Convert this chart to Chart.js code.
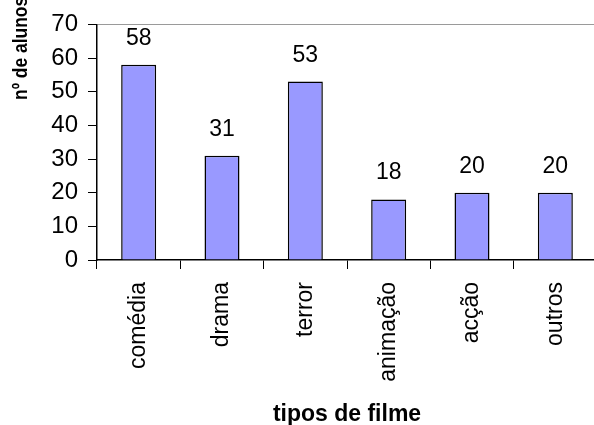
<!DOCTYPE html>
<html>
<head>
<meta charset="utf-8">
<script src="https://cdn.jsdelivr.net/npm/chart.js@4.4.0/dist/chart.umd.min.js"></script>
<style>
  html, body { margin: 0; padding: 0; background: #fff; overflow: hidden; }
  #wrap { width: 594px; height: 425px; overflow: hidden; }
  #box { width: 600px; height: 428px; }
</style>
</head>
<body>
<div id="wrap"><div id="box"><canvas id="chart"></canvas></div></div>
<script>
const categories = ['comédia', 'drama', 'terror', 'animação', 'acção', 'outros'];
const alunos = [58, 31, 53, 18, 20, 20];
const yTicks = [0, 10, 20, 30, 40, 50, 60, 70];
const yTitle = 'nº de alunos';
const xTitle = 'tipos de filme';

const FONT = '"Liberation Sans", Arial, sans-serif';

// value labels above bars
const valueLabels = {
  id: 'valueLabels',
  afterDatasetsDraw(chart) {
    const ctx = chart.ctx;
    const meta = chart.getDatasetMeta(0);
    ctx.save();
    ctx.font = '23px ' + FONT;
    ctx.fillStyle = '#000';
    ctx.textAlign = 'center';
    ctx.textBaseline = 'alphabetic';
    meta.data.forEach((bar, i) => {
      ctx.fillText(String(alunos[i]), bar.x, bar.y - 20);
    });
    ctx.restore();
  }
};

// y title sits high up, squeezed and cut at the top like the original
const yTitlePlugin = {
  id: 'yTitlePlugin',
  afterDraw(chart) {
    const ctx = chart.ctx;
    ctx.save();
    ctx.translate(21, 100);
    ctx.rotate(-Math.PI / 2);
    ctx.scale(0.83, 1);
    ctx.font = 'bold 21px ' + FONT;
    ctx.fillStyle = '#000';
    ctx.textAlign = 'left';
    ctx.textBaseline = 'middle';
    ctx.fillText(yTitle, 0, 0);
    ctx.restore();
  }
};

new Chart(document.getElementById('chart'), {
  type: 'bar',
  data: {
    labels: categories,
    datasets: [{
      data: alunos,
      backgroundColor: '#9999ff',
      borderColor: '#000',
      borderWidth: 1.5,
      barPercentage: 0.42,
      categoryPercentage: 1,
    }],
  },
  options: {
    responsive: true,
    maintainAspectRatio: false,
    animation: false,
    devicePixelRatio: 1,
    layout: { padding: { left: 0, top: 22, right: 3, bottom: 0 } },
    plugins: {
      legend: { display: false },
      tooltip: { enabled: false },
    },
    scales: {
      x: {
        afterFit(scale) { scale.height = 168; },
        grid: { drawOnChartArea: false, tickLength: 9, tickColor: '#000', offset: true },
        border: { color: '#000', width: 1.5 },
        ticks: {
          color: '#000',
          font: { family: FONT, size: 23 },
          maxRotation: 90,
          minRotation: 90,
          padding: 13,
        },
        title: {
          display: true,
          text: xTitle,
          color: '#000',
          font: { family: FONT, size: 23, weight: 'bold' },
          padding: { top: 0, bottom: 0 },
        },
      },
      y: {
        min: 0,
        max: 70,
        afterFit(scale) { scale.width = 97; },
        afterBuildTicks(scale) { scale.ticks = yTicks.map(v => ({ value: v })); },
        grid: {
          color: (c) => (c.tick && c.tick.value === 70 ? '#9a9a9a' : 'rgba(0,0,0,0)'),
          tickColor: '#000',
          tickLength: 9,
        },
        border: { color: '#000', width: 1.5 },
        ticks: {
          color: '#000',
          font: { family: FONT, size: 24 },
          padding: 10,
        },
      },
    },
  },
  plugins: [valueLabels, yTitlePlugin],
});
</script>
</body>
</html>
